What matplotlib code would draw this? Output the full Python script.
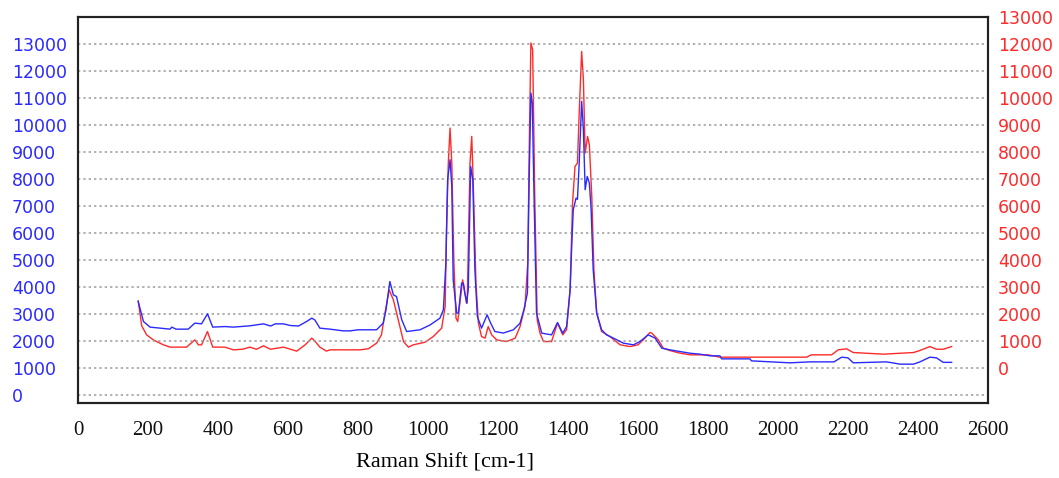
import numpy as np
import matplotlib
matplotlib.use("Agg")
import matplotlib.pyplot as plt
from matplotlib.ticker import FixedLocator

# ── Data ──────────────────────────────────────────────────────────────────────
blue_x = [172, 182, 187, 206, 263, 268, 280, 300, 315, 334, 353, 370, 385, 420,
          444, 491, 530, 550, 564, 587, 606, 630, 653, 668, 677, 691, 720, 758,
          777, 800, 853, 872, 880, 891, 901, 910, 925, 939, 977, 1006, 1034,
          1044, 1051, 1056, 1063, 1068, 1072, 1082, 1087, 1096, 1101, 1110,
          1115, 1122, 1128, 1134, 1141, 1153, 1169, 1179, 1191, 1215, 1244,
          1263, 1274, 1284, 1289, 1294, 1298, 1303, 1310, 1325, 1353, 1370,
          1385, 1396, 1406, 1411, 1415, 1423, 1427, 1432, 1439, 1444, 1449,
          1455, 1461, 1466, 1472, 1482, 1496, 1510, 1530, 1558, 1587, 1606,
          1629, 1649, 1668, 1691, 1720, 1749, 1777, 1806, 1834, 1839, 1920,
          1924, 2034, 2091, 2160, 2182, 2200, 2215, 2310, 2349, 2387, 2405,
          2434, 2453, 2472, 2496]
blue_y = [3467, 2974, 2726, 2519, 2444, 2519, 2444, 2444, 2444, 2667, 2640, 3011,
          2519, 2540, 2519, 2567, 2640, 2560, 2640, 2640, 2580, 2560, 2726,
          2852, 2780, 2481, 2444, 2380, 2380, 2420, 2420, 2667, 3160, 4208,
          3715, 3652, 2790, 2356, 2420, 2600, 2850, 3160, 4890, 7975, 8715,
          7727, 4270, 3037, 3037, 4148, 4148, 3407, 3900, 8467, 7975, 4640,
          2911, 2481, 2974, 2667, 2356, 2300, 2420, 2667, 3160, 3778, 7975,
          11185, 10800, 7356, 3037, 2296, 2233, 2689, 2296, 2541, 3900, 5630,
          6863, 7296, 7250, 8592, 10874, 9826, 7604, 8098, 7850, 6900, 4641,
          3037, 2419, 2233, 2111, 1926, 1863, 1989, 2233, 2111, 1741, 1678,
          1615, 1552, 1518, 1456, 1456, 1344, 1344, 1270, 1197, 1233, 1233,
          1407, 1380, 1197, 1233, 1148, 1148, 1230, 1407, 1380, 1215, 1215]

red_x = [172, 182, 196, 215, 244, 263, 310, 334, 344, 353, 370, 385, 420, 444,
         470, 491, 510, 530, 550, 587, 625, 649, 668, 677, 691, 710, 720, 806,
         830, 853, 867, 877, 889, 901, 915, 930, 944, 958, 992, 1015, 1039,
         1049, 1053, 1058, 1063, 1068, 1074, 1080, 1085, 1091, 1099, 1105,
         1112, 1120, 1125, 1129, 1137, 1144, 1153, 1163, 1172, 1182, 1196,
         1225, 1249, 1263, 1277, 1285, 1290, 1294, 1299, 1305, 1312, 1320,
         1330, 1353, 1370, 1385, 1396, 1406, 1413, 1420, 1427, 1432, 1439,
         1444, 1449, 1456, 1461, 1468, 1474, 1482, 1496, 1520, 1549, 1577,
         1600, 1615, 1634, 1639, 1658, 1672, 1691, 1720, 1749, 1800, 1834,
         2082, 2095, 2153, 2172, 2196, 2215, 2301, 2387, 2405, 2434, 2453,
         2472, 2496]
red_y = [2493, 1567, 1233, 1048, 863, 778, 778, 1048, 863, 863, 1356, 778, 778,
         678, 700, 778, 700, 826, 700, 778, 630, 863, 1111, 1000, 778, 630, 678,
         678, 720, 926, 1233, 2037, 2900, 2530, 1789, 985, 778, 863, 963, 1170,
         1481, 2281, 5122, 7593, 8889, 7593, 3889, 1852, 1726, 2407, 3270,
         2778, 2407, 7593, 8578, 6974, 3148, 1667, 1170, 1111, 1541, 1233,
         1048, 985, 1111, 1541, 2281, 3889, 8826, 12037, 11789, 6356, 1789,
         1296, 985, 985, 1667, 1233, 1420, 2900, 6111, 7467, 7593, 9444, 11726,
         10678, 7963, 8578, 8270, 6356, 3641, 2037, 1356, 1170, 863, 800, 863,
         1048, 1319, 1300, 1048, 741, 652, 555, 493, 493, 407, 407, 493, 493,
         678, 715, 578, 518, 578, 652, 800, 700, 700, 800]

x_ticks = list(range(0, 2601, 200))
y_ticks = list(range(0, 13001, 1000))

BLUE = "#2a2aff"
RED = "#ff2a2a"

# ── Figure ────────────────────────────────────────────────────────────────────
W, H = 1059, 478
fig = plt.figure(figsize=(W / 100, H / 100), dpi=100)
ax = fig.add_axes([78 / W, 75 / H, 910 / W, 386 / H])
ax2 = ax.twinx()

# left axis on top so the blue trace sits over the red one
ax.set_zorder(ax2.get_zorder() + 1)
ax.patch.set_visible(False)

ax2.plot(red_x, red_y, color=RED, lw=1.0)
ax.plot(blue_x, blue_y, color=BLUE, lw=1.0)

ax.set_xlim(0, 2600)
ax.set_ylim(-290, 14000)
ax2.set_ylim(-1290, 13000)

# dotted horizontal grid every 1000 (left scale)
for g in range(0, 14001, 1000):
    ax.axhline(g, color="#9a9a9a", lw=1.1, ls=(0, (1.5, 2)), zorder=0)

ax.xaxis.set_major_locator(FixedLocator(x_ticks))
ax.yaxis.set_major_locator(FixedLocator(y_ticks))
ax2.yaxis.set_major_locator(FixedLocator(y_ticks))

ax.tick_params(axis="x", length=0, pad=13, labelsize=15, labelcolor="#111111")
ax.tick_params(axis="y", length=0, pad=47.5, labelsize=12.5, labelcolor=BLUE)
ax2.tick_params(axis="y", length=0, pad=7, labelsize=12.5, labelcolor=RED)

for lab in ax.get_xticklabels():
    lab.set_fontfamily("Liberation Serif")
for lab in ax.get_yticklabels():
    lab.set_ha("left")
    lab.set_fontfamily("DejaVu Sans")
for lab in ax2.get_yticklabels():
    lab.set_fontfamily("DejaVu Sans")

ax.set_xlabel("Raman Shift [cm-1]", fontsize=16, family="Liberation Serif")
ax.xaxis.set_label_coords((445 - 78) / 910, -0.13)

for a in (ax, ax2):
    for sp in a.spines.values():
        sp.set_color("#222222")
        sp.set_linewidth(1.5)

fig.savefig("out.png", dpi=100)
